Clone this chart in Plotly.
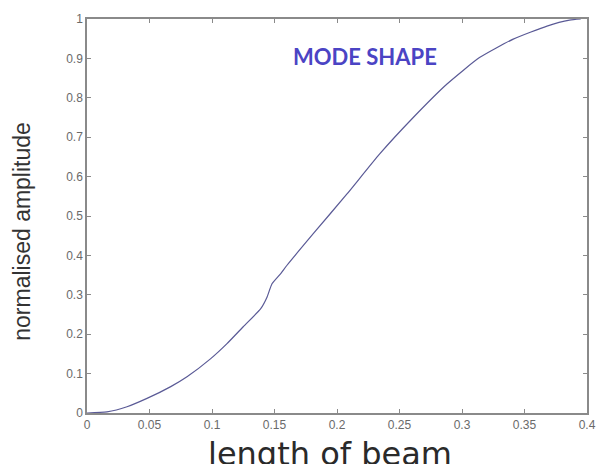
import plotly.graph_objects as go

# data
beam_x = [0, 0.016, 0.032, 0.048, 0.067, 0.08, 0.099, 0.112, 0.125, 0.139, 0.144,
          0.148, 0.155, 0.16, 0.181, 0.208, 0.234, 0.261, 0.288, 0.314, 0.341,
          0.368, 0.386, 0.395]
amplitude = [0, 0.003, 0.016, 0.037, 0.067, 0.092, 0.138, 0.176, 0.219, 0.265, 0.294,
             0.328, 0.354, 0.375, 0.455, 0.556, 0.657, 0.750, 0.835, 0.902, 0.949,
             0.982, 0.997, 1.0]

x_ticks = [0, 0.05, 0.1, 0.15, 0.2, 0.25, 0.3, 0.35, 0.4]
x_tick_labels = ["0", "0.05", "0.1", "0.15", "0.2", "0.25", "0.3", "0.35", "0.4"]
y_ticks = [0, 0.1, 0.2, 0.3, 0.4, 0.5, 0.6, 0.7, 0.8, 0.9, 1]
y_tick_labels = ["0", "0.1", "0.2", "0.3", "0.4", "0.5", "0.6", "0.7", "0.8", "0.9", "1"]

fig = go.Figure()
fig.add_trace(go.Scatter(x=beam_x, y=amplitude, mode="lines",
                         line=dict(color="#5a5a96", width=1.2, shape="spline", smoothing=0.5),
                         showlegend=False, hoverinfo="skip"))

axis_common = dict(showline=True, linecolor="#8a8a8a", linewidth=1.5, mirror="ticks",
                   ticks="inside", ticklen=4, tickcolor="#8a8a8a", showgrid=False,
                   zeroline=False, automargin=False,
                   tickfont=dict(family="Liberation Sans, Arial, sans-serif", size=12, color="#6a6a6a"))

fig.update_xaxes(range=[0, 0.4], tickvals=x_ticks, ticktext=x_tick_labels, **axis_common)
fig.update_yaxes(range=[0, 1], tickvals=y_ticks, ticktext=y_tick_labels, **axis_common)

fig.add_annotation(text="MODE SHAPE", xref="paper", yref="paper", x=0.556, y=0.905,
                   xanchor="center", yanchor="middle", showarrow=False,
                   font=dict(family="Lato, sans-serif", size=22, color="#4b44c4", weight="bold"))
fig.add_annotation(text="length of beam", xref="paper", yref="paper", x=0.486, y=-0.05,
                   xanchor="center", yanchor="top", showarrow=False,
                   font=dict(family="DejaVu Sans, sans-serif", size=32, color="#2a2a2a"))
fig.add_annotation(text="normalised amplitude", xref="paper", yref="paper", x=-0.13, y=0.46,
                   xanchor="center", yanchor="middle", showarrow=False, textangle=-90,
                   font=dict(family="Liberation Sans, Arial, sans-serif", size=23, color="#333333"))

fig.update_layout(width=600, height=464, margin=dict(l=87, r=13, t=19, b=51),
                  paper_bgcolor="white", plot_bgcolor="white")

fig.write_html("out.html", config={"displayModeBar": False},
               post_script="document.body.style.margin='0';document.body.style.overflow='hidden';")
